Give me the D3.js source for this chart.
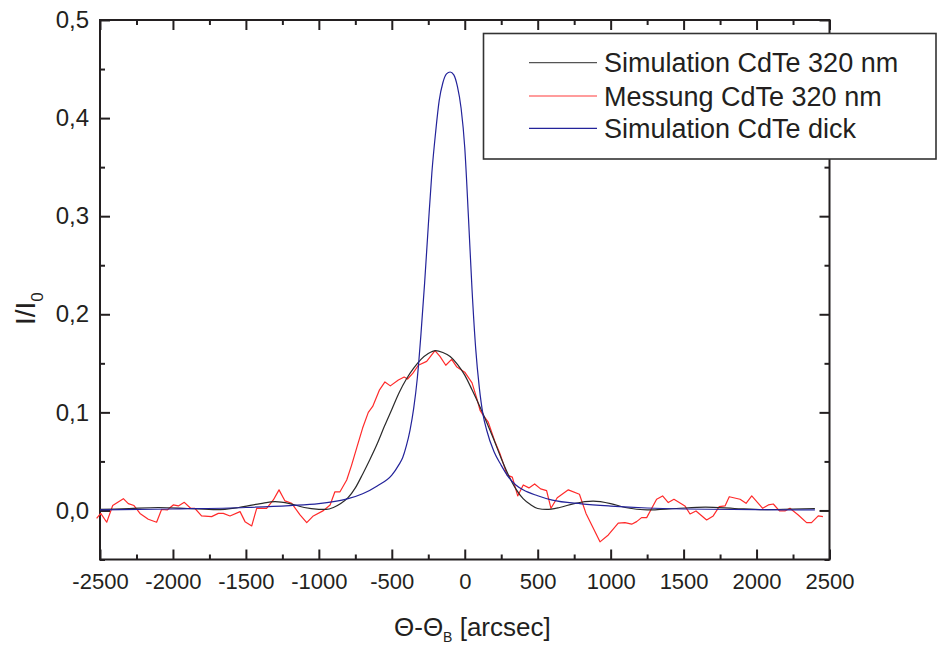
<!DOCTYPE html>
<html>
<head>
<meta charset="utf-8">
<script src="https://cdn.jsdelivr.net/npm/d3@7/dist/d3.min.js"></script>
<style>
  html, body { margin: 0; padding: 0; background: #fff; }
  svg { display: block; font-family: "Liberation Sans", Arial, Helvetica, sans-serif; }
</style>
</head>
<body>
<svg id="chart" width="938" height="645"></svg>
<script>
// Angle offset from the Bragg angle (arcsec) and reflected intensity I/I0

// Simulation CdTe 320 nm
const simThinX = [-2500, -2300, -2100, -1900, -1700, -1550, -1400, -1300, -1200, -1100, -1000, -950, -900, -850, -800, -750, -700, -650, -600, -550, -500, -450, -400, -350, -300, -250, -200, -150, -100, -50, 0, 50, 100, 150, 200, 250, 300, 350, 400, 450, 500, 560, 650, 750, 880, 1000, 1100, 1250, 1450, 1650, 1850, 2050, 2250, 2400];
const simThinY = [0.001, 0.002, 0.003, 0.002, 0.0008, 0.003, 0.007, 0.009, 0.007, 0.003, 0.0012, 0.001, 0.003, 0.007, 0.013, 0.023, 0.037, 0.052, 0.068, 0.086, 0.103, 0.120, 0.134, 0.145, 0.154, 0.160, 0.163, 0.161, 0.157, 0.149, 0.138, 0.123, 0.107, 0.090, 0.072, 0.053, 0.036, 0.022, 0.012, 0.006, 0.002, 0.001, 0.003, 0.007, 0.0095, 0.007, 0.003, 0.0005, 0.002, 0.0033, 0.002, 0.0008, 0.0015, 0.002];

// Messung CdTe 320 nm
const measX = [-2523, -2495, -2454, -2413, -2340, -2306, -2267, -2226, -2169, -2112, -2078, -2039, -1998, -1963, -1922, -1879, -1850, -1804, -1735, -1689, -1655, -1609, -1540, -1506, -1460, -1426, -1358, -1312, -1273, -1232, -1186, -1129, -1083, -1038, -969, -923, -890, -855, -809, -776, -740, -700, -661, -631, -584, -547, -510, -455, -415, -392, -355, -318, -261, -204, -170, -130, -90, -56, 0, 50, 85, 105, 127, 161, 207, 241, 264, 290, 326, 363, 401, 440, 479, 520, 561, 591, 634, 710, 786, 831, 927, 984, 1052, 1098, 1144, 1178, 1212, 1247, 1315, 1356, 1395, 1434, 1509, 1544, 1585, 1658, 1703, 1744, 1784, 1813, 1887, 1928, 1967, 2042, 2081, 2115, 2157, 2195, 2229, 2286, 2343, 2377, 2423, 2455];
const measY = [-0.008, -0.003, -0.012, 0.005, 0.012, 0.007, 0.005, -0.003, -0.009, -0.012, 0.001, 0.0005, 0.0056, 0.0046, 0.0083, 0.0022, 0.0022, -0.0056, -0.0063, -0.003, -0.003, -0.0056, -0.0012, -0.0114, -0.0158, 0.0022, 0.0022, 0.0107, 0.021, 0.0097, 0.0073, -0.0046, -0.0124, -0.0056, -0.0002, 0.0056, 0.019, 0.019, 0.031, 0.046, 0.064, 0.084, 0.100, 0.106, 0.123, 0.131, 0.127, 0.133, 0.136, 0.134, 0.140, 0.148, 0.152, 0.163, 0.157, 0.148, 0.154, 0.1466, 0.141, 0.130, 0.113, 0.102, 0.097, 0.090, 0.070, 0.058, 0.048, 0.036, 0.034, 0.0148, 0.026, 0.023, 0.027, 0.022, 0.0202, 0.0022, 0.013, 0.021, 0.0165, -0.003, -0.032, -0.025, -0.013, -0.0124, -0.014, -0.0114, -0.0073, -0.0073, 0.0114, 0.0148, 0.008, 0.0114, 0.0046, -0.0036, -0.0005, -0.0097, -0.0056, 0.0039, 0.0046, 0.014, 0.0114, 0.0073, 0.0148, 0.0022, 0.0056, 0.0066, -0.0005, -0.0005, 0.0022, -0.0046, -0.0124, -0.0124, -0.0056, -0.0063];

// Simulation CdTe dick
const simThickX = [-2500, -2000, -1500, -1200, -1000, -900, -800, -700, -600, -500, -450, -425, -400, -375, -350, -325, -300, -275, -250, -225, -200, -175, -150, -125, -100, -75, -50, -25, 0, 25, 50, 75, 100, 125, 150, 200, 250, 300, 350, 400, 500, 600, 800, 1000, 1250, 1500, 2000, 2400];
const simThickY = [0.0005, 0.0015, 0.003, 0.005, 0.007, 0.009, 0.012, 0.017, 0.025, 0.036, 0.047, 0.054, 0.066, 0.082, 0.104, 0.135, 0.180, 0.232, 0.290, 0.345, 0.385, 0.418, 0.436, 0.445, 0.447, 0.444, 0.432, 0.410, 0.370, 0.300, 0.225, 0.165, 0.125, 0.098, 0.082, 0.060, 0.046, 0.034, 0.026, 0.021, 0.015, 0.0105, 0.0068, 0.0045, 0.0025, 0.0015, 0.0008, 0.0005];

const seriesNames = ["Simulation CdTe 320 nm", "Messung CdTe 320 nm", "Simulation CdTe dick"];
const seriesColors = ["#2a2a2a", "#ff2a2a", "#23239a"];
const legendColors = ["#555555", "#ff3a3a", "#23239a"];

const xMajor = [-2500, -2000, -1500, -1000, -500, 0, 500, 1000, 1500, 2000, 2500];
const xMinor = [-2250, -1750, -1250, -750, -250, 250, 750, 1250, 1750, 2250];
const yMajor = [0.0, 0.1, 0.2, 0.3, 0.4, 0.5];
const yMinor = [-0.05, 0.05, 0.15, 0.25, 0.35, 0.45];

const svg = d3.select("#chart");
const ink = "#231f20";

const x = d3.scaleLinear().domain([-2500, 2500]).range([100, 829.5]);
const y = d3.scaleLinear().domain([-0.05, 0.5]).range([559.5, 20]);

const fmtX = d => String(d).replace("\u2212", "-");
const fmtY = d => d.toFixed(1).replace(".", ",");

function styleAxis(g) {
  g.select(".domain").remove();
  g.selectAll(".tick line").attr("stroke", ink).attr("stroke-width", 2);
  g.selectAll(".tick text").attr("fill", ink);
}

// bottom axis with labels
svg.append("g").attr("transform", `translate(0,${y.range()[0]})`)
  .call(d3.axisBottom(x).tickValues(xMajor).tickSize(-10).tickPadding(14).tickFormat(fmtX))
  .call(styleAxis)
  .call(g => g.selectAll(".tick text").attr("font-size", 22).attr("font-family", null));
svg.append("g").attr("transform", `translate(0,${y.range()[0]})`)
  .call(d3.axisBottom(x).tickValues(xMinor).tickSize(-5).tickFormat(""))
  .call(styleAxis);
// top axis, ticks only
svg.append("g").attr("transform", `translate(0,${y.range()[1]})`)
  .call(d3.axisTop(x).tickValues(xMajor).tickSize(-10).tickFormat(""))
  .call(styleAxis);
svg.append("g").attr("transform", `translate(0,${y.range()[1]})`)
  .call(d3.axisTop(x).tickValues(xMinor).tickSize(-5).tickFormat(""))
  .call(styleAxis);
// left axis with labels
svg.append("g").attr("transform", `translate(${x.range()[0]},0)`)
  .call(d3.axisLeft(y).tickValues(yMajor).tickSize(-10).tickPadding(11).tickFormat(fmtY))
  .call(styleAxis)
  .call(g => g.selectAll(".tick text").attr("font-size", 24).attr("font-family", null));
svg.append("g").attr("transform", `translate(${x.range()[0]},0)`)
  .call(d3.axisLeft(y).tickValues(yMinor).tickSize(-5).tickFormat(""))
  .call(styleAxis);
// right axis, ticks only
svg.append("g").attr("transform", `translate(${x.range()[1]},0)`)
  .call(d3.axisRight(y).tickValues(yMajor).tickSize(-10).tickFormat(""))
  .call(styleAxis);
svg.append("g").attr("transform", `translate(${x.range()[1]},0)`)
  .call(d3.axisRight(y).tickValues(yMinor).tickSize(-5).tickFormat(""))
  .call(styleAxis);

// plot frame
svg.append("rect")
  .attr("x", x.range()[0]).attr("y", y.range()[1])
  .attr("width", x.range()[1] - x.range()[0])
  .attr("height", y.range()[0] - y.range()[1])
  .attr("fill", "none").attr("stroke", ink).attr("stroke-width", 2);

// curves
const smooth = d3.line().x(d => x(d[0])).y(d => y(d[1])).curve(d3.curveMonotoneX);
const straight = d3.line().x(d => x(d[0])).y(d => y(d[1]));

const series = [
  { pts: d3.zip(simThinX, simThinY), gen: smooth, color: seriesColors[0] },
  { pts: d3.zip(measX, measY), gen: straight, color: seriesColors[1] },
  { pts: d3.zip(simThickX, simThickY), gen: smooth, color: seriesColors[2] }
];
// draw order: measured first, then simulations on top
[1, 0, 2].forEach(i => {
  svg.append("path")
    .attr("d", series[i].gen(series[i].pts))
    .attr("fill", "none")
    .attr("stroke", series[i].color)
    .attr("stroke-width", 1.2)
    .attr("stroke-linejoin", "round");
});

// legend
const lg = svg.append("g");
lg.append("rect")
  .attr("x", 483.5).attr("y", 33.5).attr("width", 452.5).attr("height", 125.5)
  .attr("fill", "#fff").attr("stroke", "#333").attr("stroke-width", 1.6);
const rowY = [62.7, 96, 128.3];
seriesNames.forEach((name, i) => {
  lg.append("line")
    .attr("x1", 529).attr("x2", 597).attr("y1", rowY[i]).attr("y2", rowY[i])
    .attr("stroke", legendColors[i]).attr("stroke-width", 1.2);
  lg.append("text")
    .attr("x", 604).attr("y", rowY[i] + 9.5)
    .attr("font-size", 27).attr("fill", ink)
    .text(name);
});

// axis titles
const yt = svg.append("text")
  .attr("transform", "translate(35,325) rotate(-90)")
  .attr("font-size", 28).attr("fill", ink);
yt.append("tspan").text("I/I");
yt.append("tspan").attr("font-size", 17).attr("dy", 8).text("0");

const xt = svg.append("text")
  .attr("x", 394).attr("y", 636)
  .attr("font-size", 26).attr("fill", ink);
xt.append("tspan").text("\u0398-\u0398");
xt.append("tspan").attr("font-size", 14).attr("dy", 6).text("B");
xt.append("tspan").attr("dy", -6).text(" [arcsec]");
</script>
</body>
</html>
